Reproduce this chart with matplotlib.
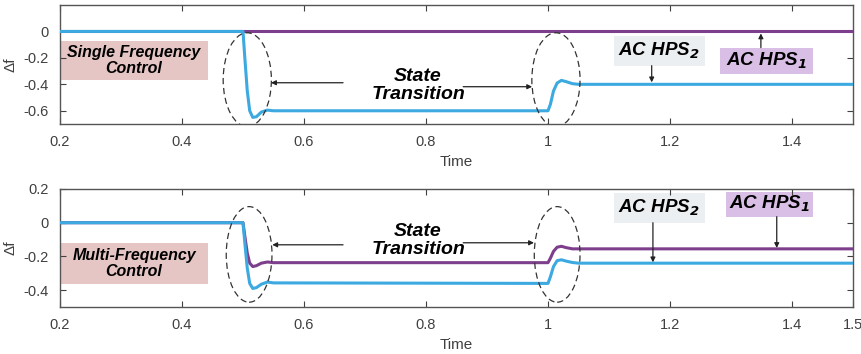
import matplotlib
matplotlib.use('Agg')
import matplotlib.pyplot as plt
from matplotlib.patches import Ellipse, Rectangle

plt.rcParams['font.family'] = ['Liberation Sans', 'DejaVu Sans']
plt.rcParams['mathtext.fontset'] = 'dejavusans'

# -----------------
# Data
# -----------------
t_top = [0.2, 0.5, 0.503, 0.507, 0.511, 0.516, 0.522, 0.53, 0.54, 0.55,
         1.0, 1.004, 1.009, 1.015, 1.022, 1.03, 1.04, 1.05, 1.5]
hps1_top = [0, 0, 0, 0, 0, 0, 0, 0, 0, 0,
            0, 0, 0, 0, 0, 0, 0, 0, 0]
hps2_top = [0, 0, -0.2, -0.45, -0.6, -0.65, -0.645, -0.61, -0.595, -0.6,
            -0.6, -0.55, -0.45, -0.39, -0.37, -0.38, -0.395, -0.4, -0.4]

t_bot = [0.2, 0.5, 0.503, 0.507, 0.511, 0.516, 0.522, 0.53, 0.54, 0.55,
         1.0, 1.004, 1.009, 1.015, 1.022, 1.03, 1.04, 1.05, 1.5]
hps1_bot = [0, 0, -0.08, -0.18, -0.24, -0.26, -0.255, -0.24, -0.233, -0.237,
            -0.237, -0.21, -0.17, -0.145, -0.14, -0.148, -0.155, -0.155, -0.155]
hps2_bot = [0, 0, -0.12, -0.27, -0.36, -0.39, -0.385, -0.365, -0.352, -0.357,
            -0.36, -0.32, -0.26, -0.225, -0.22, -0.228, -0.236, -0.24, -0.24]

xticks_top = [0.2, 0.4, 0.6, 0.8, 1.0, 1.2, 1.4]
xticks_bot = [0.2, 0.4, 0.6, 0.8, 1.0, 1.2, 1.4, 1.5]
xticklabels_top = ['0.2', '0.4', '0.6', '0.8', '1', '1.2', '1.4']
xticklabels_bot = ['0.2', '0.4', '0.6', '0.8', '1', '1.2', '1.4', '1.5']
yticks_top = [-0.6, -0.4, -0.2, 0]
yticks_bot = [-0.4, -0.2, 0, 0.2]

# colours
BLUE = '#3ca9e0'
PURPLE = '#7d3f8c'
PINK = '#e6c6c4'
LILAC = '#d9bfe6'
GREY = '#eceff2'

fig = plt.figure(figsize=(8.61, 3.54), dpi=100)
ax1 = fig.add_axes([60/861, 1-124/354, 793/861, 119/354])
ax2 = fig.add_axes([60/861, 1-307/354, 793/861, 118/354])


def style_axes(ax, xticks, xlabels, yticks, ylim):
    ax.set_xlim(0.2, 1.5)
    ax.set_ylim(*ylim)
    ax.set_xticks(xticks)
    ax.set_xticklabels(xlabels)
    ax.set_yticks(yticks)
    ax.set_yticklabels([f'{v:g}' for v in yticks])
    ax.tick_params(direction='in', top=True, right=True, length=4,
                   labelsize=10.5, labelcolor='#404040', color='#404040', pad=8)
    for s in ax.spines.values():
        s.set_color('#555555')
        s.set_linewidth(1)
    ax.set_xlabel('Time', fontsize=11, color='#404040', labelpad=4)
    ax.set_ylabel('Δf', fontsize=11, color='#404040')
    ax.yaxis.set_label_coords(-0.054, 0.5)


def boxed_text(ax, x0, x1, y0, y1, color, text, size):
    ax.add_patch(Rectangle((x0, y0), x1 - x0, y1 - y0, facecolor=color,
                           edgecolor='none', zorder=1))
    ax.text((x0 + x1) / 2, (y0 + y1) / 2, text, ha='center', va='center',
            fontsize=size, fontweight='bold', fontstyle='italic', zorder=5,
            linespacing=1.1)


def arrow(ax, xy_from, xy_to):
    ax.annotate('', xy=xy_to, xytext=xy_from,
                arrowprops=dict(arrowstyle='-|>', color='#222222', lw=0.9,
                                mutation_scale=7, shrinkA=0, shrinkB=0),
                zorder=6)


# -----------------
# Top panel: single frequency control
# -----------------
ax1.plot(t_top, hps1_top, color=PURPLE, lw=2.2, zorder=3)
ax1.plot(t_top, hps2_top, color=BLUE, lw=2.2, zorder=4)
style_axes(ax1, xticks_top, xticklabels_top, yticks_top, (-0.7, 0.2))

boxed_text(ax1, 0.2, 0.443, -0.365, -0.076, PINK, 'Single Frequency\nControl', 11.5)
for xc in [0.507, 1.013]:
    ax1.add_patch(Ellipse((xc, -0.365), 0.079, 0.71, fill=False,
                          ls=(0, (5, 3)), lw=0.9, ec='#333333', zorder=6))
ax1.text(0.787, -0.41, 'State\nTransition', ha='center', va='center',
         fontsize=14, fontweight='bold', fontstyle='italic', linespacing=1.05)
arrow(ax1, (0.664, -0.388), (0.546, -0.388))
arrow(ax1, (0.861, -0.418), (0.974, -0.418))

boxed_text(ax1, 1.108, 1.257, -0.259, -0.038, GREY, r'AC HPS$_{\mathbfit{2}}$', 13.5)
arrow(ax1, (1.17, -0.259), (1.17, -0.385))
boxed_text(ax1, 1.282, 1.434, -0.319, -0.122, LILAC, r'AC HPS$_{\mathbfit{1}}$', 13.5)
arrow(ax1, (1.349, -0.122), (1.349, -0.015))

# -----------------
# Bottom panel: multi-frequency control
# -----------------
ax2.plot(t_bot, hps1_bot, color=PURPLE, lw=2.2, zorder=3)
ax2.plot(t_bot, hps2_bot, color=BLUE, lw=2.2, zorder=4)
style_axes(ax2, xticks_bot, xticklabels_bot, yticks_bot, (-0.5, 0.2))

boxed_text(ax2, 0.2, 0.443, -0.364, -0.119, PINK, 'Multi-Frequency\nControl', 11.5)
for xc in [0.51, 1.015]:
    ax2.add_patch(Ellipse((xc, -0.188), 0.075, 0.567, fill=False,
                          ls=(0, (5, 3)), lw=0.9, ec='#333333', zorder=6))
ax2.text(0.787, -0.107, 'State\nTransition', ha='center', va='center',
         fontsize=14, fontweight='bold', fontstyle='italic', linespacing=1.05)
arrow(ax2, (0.664, -0.131), (0.548, -0.131))
arrow(ax2, (0.861, -0.119), (0.977, -0.119))

boxed_text(ax2, 1.108, 1.257, 0.0, 0.179, GREY, r'AC HPS$_{\mathbfit{2}}$', 13.5)
arrow(ax2, (1.172, 0.0), (1.172, -0.235))
boxed_text(ax2, 1.292, 1.434, 0.036, 0.185, LILAC, r'AC HPS$_{\mathbfit{1}}$', 13.5)
arrow(ax2, (1.375, 0.036), (1.375, -0.15))

fig.savefig('out.png', dpi=100)
